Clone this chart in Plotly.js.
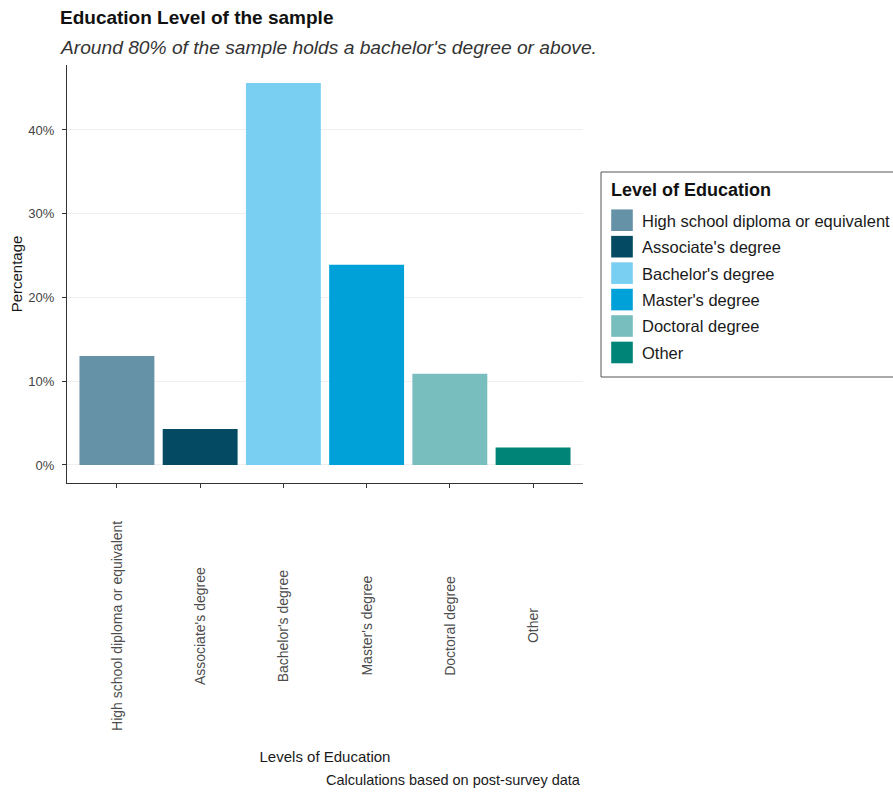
<!DOCTYPE html>
<html>
<head>
<meta charset="utf-8">
<script src="https://cdn.plot.ly/plotly-3.0.1.min.js"></script>
<style>html,body{margin:0;padding:0;background:#fff;}#chart{width:893px;height:792px;}</style>
</head>
<body>
<div id="chart"></div>
<script>
// Data
const categories = ["High school diploma or equivalent", "Associate's degree", "Bachelor's degree", "Master's degree", "Doctoral degree", "Other"];
const percentages = [0.130, 0.043, 0.456, 0.239, 0.109, 0.021];
const barColors = ["#6692a8", "#034a62", "#78cff2", "#00a0d9", "#78bebf", "#008477"];
const yTickVals = [0, 0.1, 0.2, 0.3, 0.4];
const yTickText = ["0%", "10%", "20%", "30%", "40%"];
const titleText = "Education Level of the sample";
const subtitleText = "Around 80% of the sample holds a bachelor's degree or above.";
const xTitle = "Levels of Education";
const yTitle = "Percentage";
const legendTitle = "Level of Education";
const captionText = "Calculations based on post-survey data";

const FONT = "Liberation Sans, Arial, sans-serif";

const traces = categories.map((c, i) => ({
  type: "bar",
  name: c,
  x: [c],
  y: [percentages[i]],
  width: 0.9,
  marker: {color: barColors[i], line: {width: 0}},
  legendgroup: "g" + i,
  hovertemplate: "%{x}: %{y:.1%}<extra></extra>"
}));

const annotations = categories.map(c => ({
  xref: "x", yref: "paper", x: c, y: -0.342,
  text: c, textangle: -90, showarrow: false,
  xanchor: "center", yanchor: "middle",
  font: {family: FONT, size: 14, color: "#4d4d4d"}
}));
annotations.push({
  xref: "paper", yref: "paper", x: -0.018, y: 1.043,
  xanchor: "left", yanchor: "middle", showarrow: false,
  text: "<i>" + subtitleText + "</i>",
  font: {family: FONT, size: 19.2, color: "#333333"}
});
annotations.push({
  xref: "paper", yref: "paper", x: 1.0, y: -0.7105,
  xanchor: "right", yanchor: "middle", showarrow: false,
  text: captionText,
  font: {family: FONT, size: 14.5, color: "#1a1a1a"}
});
// legend title
annotations.push({
  xref: "paper", yref: "paper", x: (609 - 67) / 516, y: (483 - 190) / 418,
  xanchor: "left", yanchor: "middle", showarrow: false,
  text: "<b>" + legendTitle + "</b>",
  font: {family: FONT, size: 18, color: "#111"}
});

const layout = {
  width: 893, height: 792,
  paper_bgcolor: "#ffffff", plot_bgcolor: "#ffffff",
  margin: {l: 67, r: 310, t: 65, b: 309, autoexpand: false},
  font: {family: FONT, color: "#333"},
  title: {
    text: "<b>" + titleText + "</b>",
    xref: "container", yref: "container",
    x: 60 / 893, xanchor: "left",
    y: 1 - 17 / 792, yanchor: "middle",
    font: {family: FONT, size: 19, color: "#111"}
  },
  showlegend: true,
  bargap: 0.1,
  xaxis: {
    type: "category",
    range: [-0.6, 5.6],
    showline: true, linecolor: "#333", linewidth: 1,
    ticks: "outside", ticklen: 4, tickcolor: "#333",
    showticklabels: false, showgrid: false, zeroline: false,
    title: {text: xTitle, standoff: 264, font: {family: FONT, size: 15, color: "#1a1a1a"}},
    fixedrange: true
  },
  yaxis: {
    range: [-0.0215, 0.4776],
    tickvals: yTickVals, ticktext: yTickText,
    showline: true, linecolor: "#333", linewidth: 1,
    ticks: "outside", ticklen: 4, tickcolor: "#333",
    ticklabelstandoff: 5,
    tickfont: {family: FONT, size: 13, color: "#444"},
    showgrid: true, gridcolor: "#efefef", gridwidth: 1,
    zeroline: false,
    title: {text: yTitle, standoff: 2, font: {family: FONT, size: 15, color: "#1a1a1a"}},
    fixedrange: true
  },
  legend: {
    x: (602 - 67) / 516, y: (483 - 203) / 418, xanchor: "left", yanchor: "top",
    bgcolor: "rgba(0,0,0,0)", borderwidth: 0,
    traceorder: "grouped", tracegroupgap: 2,
    font: {family: FONT, size: 16.5, color: "#1a1a1a"}
  },
  shapes: [{
    type: "rect", xref: "paper", yref: "paper",
    x0: (601 - 67) / 516, x1: 1.75,
    y0: (483 - 377) / 418, y1: (483 - 172) / 418,
    line: {color: "#555", width: 1}, fillcolor: "rgba(0,0,0,0)", layer: "below"
  }],
  annotations: annotations
};

Plotly.newPlot("chart", traces, layout, {displayModeBar: false, staticPlot: true}).then(gd => {
  gd.querySelectorAll(".legend .legendpoints path").forEach(p => {
    const t = p.getAttribute("transform") || "";
    p.setAttribute("transform", t + " scale(1.8)");
  });
});
</script>
</body>
</html>
